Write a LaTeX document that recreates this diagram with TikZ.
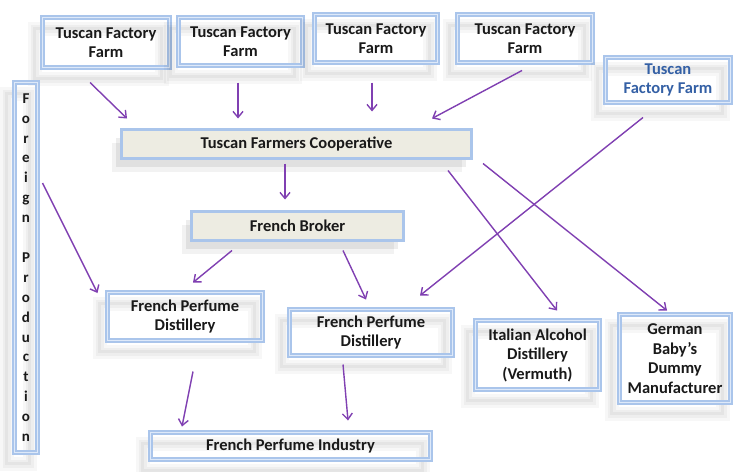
\documentclass[tikz,border=0pt]{standalone}
\usepackage{fontspec}
\setmainfont{Carlito}
\usetikzlibrary{arrows.meta}
\definecolor{frameout}{RGB}{170,197,235}
\definecolor{framein}{RGB}{222,233,249}
\definecolor{arrowc}{RGB}{128,64,178}
\definecolor{beige}{RGB}{237,236,226}
\definecolor{txt}{RGB}{25,25,25}
\definecolor{bluetxt}{RGB}{52,96,165}
\begin{document}
\begin{tikzpicture}[x=1pt,y=-1pt,
  every node/.style={font=\fontsize{16.5}{19.5}\selectfont\bfseries, text=txt, align=center, inner sep=0pt, outer sep=0pt},
  frame/.style={draw=frameout, line width=2.2pt, double=framein, double distance=1.1pt,
    preaction={draw=black, opacity=0.03, line width=14pt, transform canvas={shift={(-8pt,-11pt)}}},
    preaction={draw=black, opacity=0.035, line width=8pt, transform canvas={shift={(-8pt,-11pt)}}},
    preaction={draw=black, opacity=0.04, line width=3pt, transform canvas={shift={(-8pt,-11pt)}}}},
  bbox/.style={draw=frameout, line width=2.8pt, fill=beige,
    preaction={fill=black, opacity=0.05, transform canvas={shift={(-10pt,-13pt)}}},
    preaction={fill=black, opacity=0.07, transform canvas={shift={(-6pt,-8pt)}}}},
  arr/.style={draw=arrowc, line width=1.4pt, -{Straight Barb[length=6pt,width=10pt,line width=1.4pt]}}
]
\useasboundingbox (0,0) rectangle (733,471);
\fill[white] (0,0) rectangle (733,471);

\node[frame, minimum width=127pt, minimum height=50pt] (tff1) at (106,42.5) {Tuscan Factory\\Farm};
\node[frame, minimum width=124pt, minimum height=48pt] (tff2) at (240.5,41.5) {Tuscan Factory\\Farm};
\node[frame, minimum width=123pt, minimum height=48pt] (tff3) at (376,38.5) {Tuscan Factory\\Farm};
\node[frame, minimum width=135pt, minimum height=48pt] (tff4) at (525,38.5) {Tuscan Factory\\Farm};
\node[frame, minimum width=125pt, minimum height=45pt, text=bluetxt] (tff5) at (668,80) {Tuscan\\Factory Farm};

\node[frame, minimum width=23pt, minimum height=370pt, font=\fontsize{15}{19.9}\selectfont\bfseries] (foreign) at (26,267.5)
  {F\\o\\r\\e\\i\\g\\n\\[19.9pt]P\\r\\o\\d\\u\\c\\t\\i\\o\\n};

\node[bbox, minimum width=350pt, minimum height=29pt] (coop) at (296.5,144) {Tuscan Farmers Cooperative};
\node[bbox, minimum width=212pt, minimum height=29pt] (broker) at (297.5,226) {French Broker};

\node[frame, minimum width=155pt, minimum height=48pt] (fpd1) at (185,316.5) {French Perfume\\Distillery};
\node[frame, minimum width=163pt, minimum height=46pt] (fpd2) at (371,332.5) {French Perfume\\Distillery};
\node[frame, minimum width=124pt, minimum height=69pt] (ital) at (537.5,355) {Italian Alcohol\\Distillery\\(Vermuth)};
\node[frame, minimum width=111pt, minimum height=88pt] (germ) at (675,358.5) {German\\Baby’s\\Dummy\\Manufacturer};
\node[frame, minimum width=280pt, minimum height=27pt] (fpi) at (290.5,446) {French Perfume Industry};

\draw[arr] ([shift={(-16,15)}]tff1.south) -- ([shift={(-169.5,-11)}]coop.north);
\draw[arr] ([shift={(-2.5,17)}]tff2.south) -- ([shift={(-58.5,-11)}]coop.north);
\draw[arr] ([shift={(-4,20)}]tff3.south) -- ([shift={(75.5,-18)}]coop.north);
\draw[arr] ([shift={(-3,8)}]tff4.south) -- ([shift={(135.5,-11)}]coop.north);
\draw[arr] ([shift={(-25,15)}]tff5.south) -- ([shift={(49,-14)}]fpd2.north);
\draw[arr] ([shift={(-11.5,5)}]coop.south) -- ([shift={(-12.5,-12)}]broker.north);
\draw[arr] ([shift={(5,-84.5)}]foreign.east) -- ([shift={(-10,-23.5)}]fpd1.west);
\draw[arr] ([shift={(-65.5,10)}]broker.south) -- ([shift={(8,-10)}]fpd1.north);
\draw[arr] ([shift={(45.5,10)}]broker.south) -- ([shift={(-5,-10)}]fpd2.north);
\draw[arr] ([shift={(151.5,12)}]coop.south) -- ([shift={(19.5,-10)}]ital.north);
\draw[arr] ([shift={(186.5,5)}]coop.south) -- ([shift={(-8,-4)}]germ.north);
\draw[arr] ([shift={(8,31)}]fpd1.south) -- ([shift={(-108.5,-6)}]fpi.north);
\draw[arr] ([shift={(-28,9)}]fpd2.south) -- ([shift={(57.5,-12)}]fpi.north);
\end{tikzpicture}
\end{document}
